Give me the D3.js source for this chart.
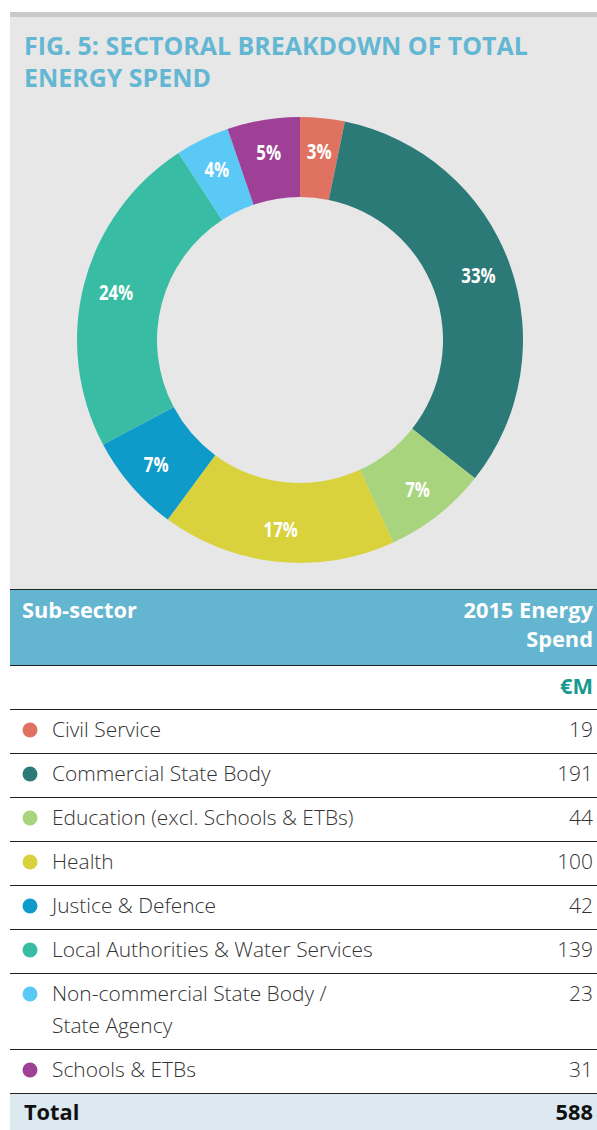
<!DOCTYPE html>
<html>
<head>
<meta charset="utf-8">
<script src="https://cdn.jsdelivr.net/npm/d3@7"></script>
<style>
  body { margin: 0; background: #fff; }
  svg { display: block; }
  text { font-family: "Open Sans", "Noto Sans", sans-serif; }
</style>
</head>
<body>
<svg id="chart" width="597" height="1130"></svg>
<script>
const titleLines = ["FIG. 5: SECTORAL BREAKDOWN OF TOTAL", "ENERGY SPEND"];
const sectors = [
    "Civil Service",
    "Commercial State Body",
    "Education (excl. Schools & ETBs)",
    "Health",
    "Justice & Defence",
    "Local Authorities & Water Services",
    "Non-commercial State Body /\nState Agency",
    "Schools & ETBs"
];
const spend = [19, 191, 44, 100, 42, 139, 23, 31];
const shares = [3, 33, 7, 17, 7, 24, 4, 5];
const colors = ["#e07262", "#2b7a77", "#a8d47e", "#d9d23d", "#0f9bc9", "#38bca4", "#5bc9f6", "#9e4196"];
const headers = ["Sub-sector", "2015 Energy\nSpend", "€M"];
const totalLabel = "Total";
const totalSpend = 588;

const svg = d3.select("#chart");

// squeeze text horizontally so it reads like the condensed font of the original
function squeeze(node, target) {
    return target / node.getComputedTextLength();
}

// top strip + grey panel
svg.append("rect").attr("x", 10).attr("y", 12).attr("width", 587).attr("height", 5).attr("fill", "#c9c9c9");
svg.append("rect").attr("x", 10).attr("y", 17).attr("width", 587).attr("height", 572).attr("fill", "#e7e7e7");

const title = svg.append("g");
const tLines = title.selectAll("text")
    .data(titleLines)
    .enter()
    .append("text")
    .attr("y", (d, i) => i * 32)
    .attr("fill", "#63b7d3")
    .attr("font-size", 25)
    .attr("font-weight", 700)
    .text(d => d);
const kTitle = squeeze(tLines.node(), 504);
title.attr("transform", `translate(24,55) scale(${kTitle},1)`);

// donut
const cx = 300, cy = 340, rOuter = 223, rInner = 143;
const pie = d3.pie().sort(null).value(d => d.value);
const arcs = pie(sectors.map((s, i) => ({name: s, value: spend[i], share: shares[i], color: colors[i]})));
const arc = d3.arc().innerRadius(rInner).outerRadius(rOuter);
const labelArc = d3.arc().innerRadius(190).outerRadius(190);

const donut = svg.append("g").attr("transform", `translate(${cx},${cy})`);
donut.selectAll(".slice")
    .data(arcs)
    .enter()
    .append("path")
    .attr("class", "slice")
    .attr("d", arc)
    .attr("fill", d => d.data.color);

donut.selectAll(".label")
    .data(arcs)
    .enter()
    .append("g")
    .attr("class", "label")
    .attr("transform", d => {
        const [x, y] = labelArc.centroid(d);
        return `translate(${x},${y}) scale(0.8,1)`;
    })
    .append("text")
    .attr("text-anchor", "middle")
    .attr("dy", "0.36em")
    .attr("fill", "#fff")
    .attr("font-size", 21)
    .attr("font-weight", 700)
    .text(d => d.data.share + "%");

// table header
svg.append("rect").attr("x", 10).attr("y", 589).attr("width", 587).attr("height", 76).attr("fill", "#64b5cf");

const hdrLeft = svg.append("text")
    .attr("fill", "#fff").attr("font-size", 21).attr("font-weight", 700)
    .text(headers[0]);
const kHead = squeeze(hdrLeft.node(), 115);
hdrLeft.attr("transform", `translate(22,618) scale(${kHead},1)`);

headers[1].split("\n").forEach((line, i) => {
    svg.append("text")
        .attr("transform", `translate(593,${618 + i * 29}) scale(${kHead},1)`)
        .attr("text-anchor", "end")
        .attr("fill", "#fff").attr("font-size", 21).attr("font-weight", 700)
        .text(line);
});

svg.append("text")
    .attr("transform", `translate(593,694) scale(${kHead},1)`)
    .attr("text-anchor", "end")
    .attr("fill", "#17998f").attr("font-size", 21).attr("font-weight", 700)
    .text(headers[2]);

// rows
const rowH = 44, lineGap = 32;
const rowTops = [];
let y0 = 709;
sectors.forEach(s => {
    rowTops.push(y0);
    y0 += rowH + (s.split("\n").length - 1) * lineGap;
});
const tableEnd = y0;

// measure a long label to get the squeeze factor for body text
const probe = svg.append("text").attr("font-size", 21).attr("font-weight", 300).text(sectors[5]);
const kBody = squeeze(probe.node(), 321);
probe.remove();

const lines = rowTops.concat([589, 665, tableEnd]);
svg.selectAll(".rule")
    .data(lines)
    .enter()
    .append("line")
    .attr("class", "rule")
    .attr("x1", 10).attr("x2", 597)
    .attr("y1", d => d + 0.5).attr("y2", d => d + 0.5)
    .attr("stroke", "#222").attr("stroke-width", 1.2);

const rows = svg.selectAll(".row")
    .data(arcs)
    .enter()
    .append("g")
    .attr("class", "row")
    .attr("transform", (d, i) => `translate(0,${rowTops[i]})`);

rows.append("circle")
    .attr("cx", 30).attr("cy", 21).attr("r", 7.5)
    .attr("fill", d => d.data.color);

rows.each(function(d) {
    const g = d3.select(this);
    d.data.name.split("\n").forEach((line, j) => {
        g.append("text")
            .attr("transform", `translate(52,${28 + j * lineGap}) scale(${kBody},1)`)
            .attr("fill", "#333").attr("font-size", 21).attr("font-weight", 300)
            .text(line);
    });
    g.append("text")
        .attr("transform", `translate(593,28) scale(${kBody},1)`)
        .attr("text-anchor", "end")
        .attr("fill", "#333").attr("font-size", 21).attr("font-weight", 300)
        .text(d.value);
});

// total row
svg.append("rect").attr("x", 10).attr("y", tableEnd + 1).attr("width", 587).attr("height", 1130 - tableEnd - 1).attr("fill", "#dce9f1");
svg.append("text")
    .attr("transform", `translate(24,${tableEnd + 27}) scale(${kHead},1)`)
    .attr("fill", "#111").attr("font-size", 21).attr("font-weight", 700)
    .text(totalLabel);
svg.append("text")
    .attr("transform", `translate(593,${tableEnd + 27}) scale(${kHead},1)`)
    .attr("text-anchor", "end")
    .attr("fill", "#111").attr("font-size", 21).attr("font-weight", 700)
    .text(totalSpend);
</script>
</body>
</html>
